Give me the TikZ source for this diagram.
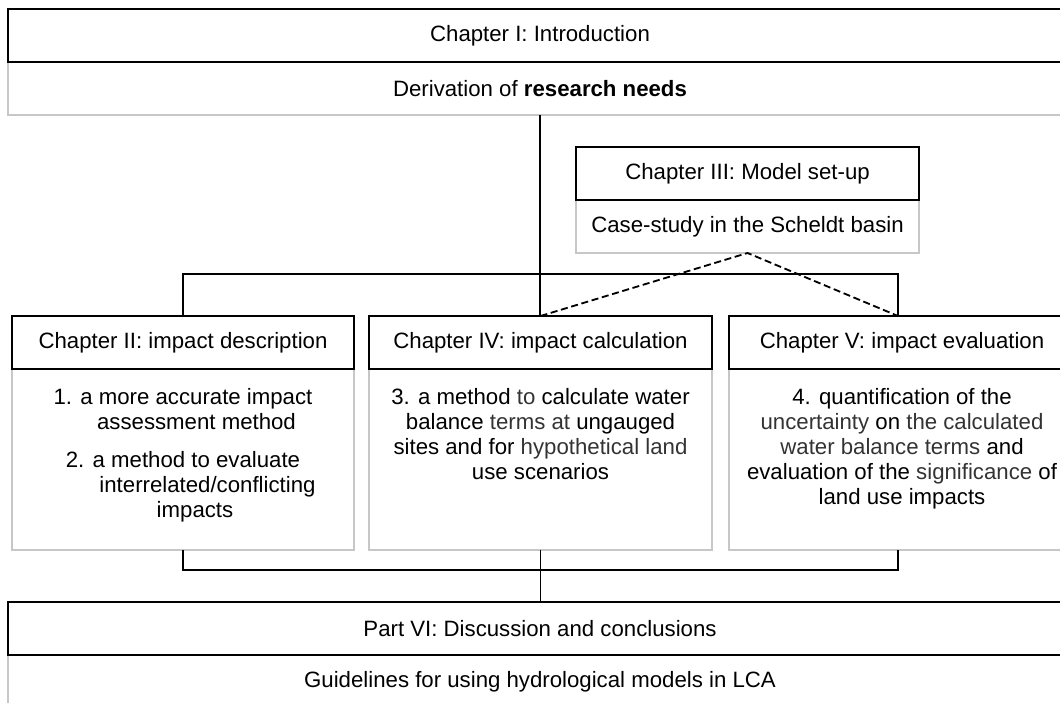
\documentclass[tikz,border=0pt]{standalone}
\usepackage{fontspec}
\setmainfont{Liberation Sans}
\usetikzlibrary{positioning,calc}

\definecolor{boxgray}{gray}{0.78}
\definecolor{softtext}{gray}{0.2}
\newcommand{\soft}[1]{\textcolor{softtext}{#1}}

\begin{document}
\begin{tikzpicture}[every node/.style={font=\fontsize{15.8}{17.9}\selectfont, outer sep=0pt, inner sep=0pt},
    head/.style={draw=black, line width=0.8pt, minimum height=1.325cm},
    body/.style={draw=boxgray, line width=0.8pt},
    bodytxt/.style={align=center, anchor=north},
    conn/.style={draw=black, line width=0.8pt},
    link/.style={draw=black, line width=1.3pt, dash pattern=on 5pt off 2.6pt}]
    \useasboundingbox (0,0) rectangle (26.5,-17.55);
    \clip (0,0) rectangle (26.5,-17.55);

    % body parts first, headers on top of them
    \node[body, minimum width=26.6cm, minimum height=1.325cm] (c1b) at (13.5,-2.2125) {Derivation of \textbf{research needs}};
    \node[head, minimum width=26.6cm, above=0pt of c1b] (c1h) {Chapter I: Introduction};

    \node[body, minimum width=8.575cm, minimum height=1.325cm] (c3b) at (18.6875,-5.6625) {Case-study in the Scheldt basin};
    \node[head, minimum width=8.575cm, above=0pt of c3b] (c3h) {Chapter III: Model set-up};

    \node[body, minimum width=8.55cm, minimum height=4.525cm] (c2b) at (4.575,-11.4875) {};
    \node[head, minimum width=8.55cm, above=0pt of c2b] (c2h) {Chapter II: impact description};

    \node[body, minimum width=8.575cm, minimum height=4.525cm] (c4b) at (13.5125,-11.4875) {};
    \node[head, minimum width=8.575cm, above=0pt of c4b] (c4h) {Chapter IV: impact calculation};

    \node[body, minimum width=8.65cm, minimum height=4.525cm] (c5b) at (22.55,-11.4875) {};
    \node[head, minimum width=8.65cm, above=0pt of c5b] (c5h) {Chapter V: impact evaluation};

    \node[body, minimum width=26.6cm, minimum height=1.325cm] (c6b) at (13.5,-17.0375) {Guidelines for using hydrological models in LCA};
    \node[head, minimum width=26.6cm, above=0pt of c6b] (c6h) {Part VI: Discussion and conclusions};

    % texts of the chapter boxes
    \node[bodytxt] (c2t) at ($(c2b.north)+(0,-0.475)$) {1. a more accurate impact\\
        \hspace*{0.675cm}assessment method\\[9.2pt]
        2. a method to evaluate\\
        \hspace*{1.225cm}interrelated/conflicting\\
        \hspace*{0.6cm}impacts};
    \node[bodytxt] (c4t) at ($(c4b.north)+(0,-0.475)$) {3. a method \soft{to} calculate water\\
        balance \soft{terms at} ungauged\\
        sites and for \soft{hypothetical land}\\
        use scenarios};
    \node[bodytxt] (c5t) at ($(c5b.north)+(0,-0.475)$) {4. quantification of the\\
        \soft{uncertainty} on \soft{the calculated}\\
        \soft{water balance terms} and\\
        evaluation of the \soft{significance} of\\
        land use impacts};

    \coordinate (c5in) at ($(c5h.north)+(-0.1,0)$);
    \coordinate (c5out) at ($(c5b.south)+(-0.1,0)$);

    % connectors
    \draw[conn] (c1b.south) -- (c1b.south |- c4h.north);
    \draw[conn] (c2h.north) |- ($(c5in)+(0,1.05)$) -- (c5in);
    \draw[link] (c4h.north) -- (c3b.south) -- (c5in);
    \draw[conn] (c2b.south) -- ++(0,-0.5) -| (c5out);
    \draw[conn] (c4b.south) -- (c4b.south |- c6h.north);
\end{tikzpicture}
\end{document}
